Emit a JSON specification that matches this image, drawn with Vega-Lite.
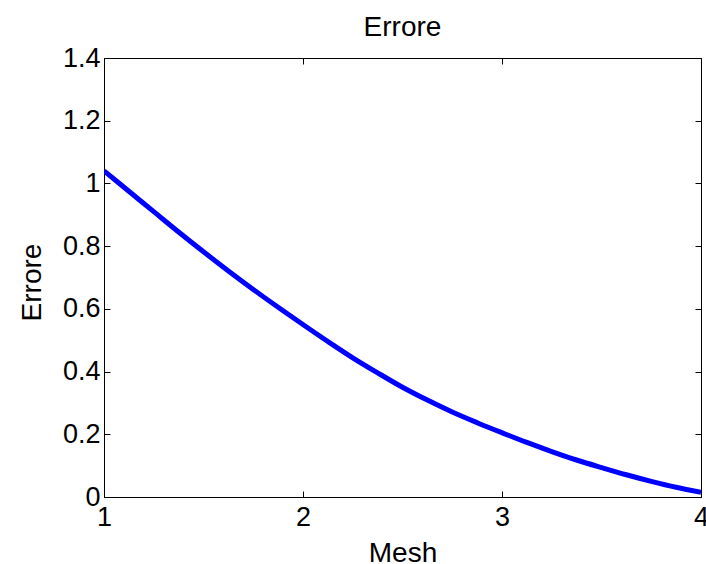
{
  "$schema": "https://vega.github.io/schema/vega-lite/v6.json",
  "width": 597,
  "height": 439,
  "autosize": {"type": "none"},
  "padding": {"left": 104, "top": 58, "right": 5, "bottom": 67},
  "background": "white",
  "title": {
    "text": "Errore",
    "font": "Liberation Sans",
    "fontSize": 28,
    "fontWeight": "normal",
    "color": "black",
    "baseline": "alphabetic",
    "offset": -20
  },
  "data": {
    "values": [
      {"mesh": 1.0, "errore": 1.04},
      {"mesh": 1.125, "errore": 0.975},
      {"mesh": 1.25, "errore": 0.91},
      {"mesh": 1.375, "errore": 0.845},
      {"mesh": 1.5, "errore": 0.782},
      {"mesh": 1.625, "errore": 0.721},
      {"mesh": 1.75, "errore": 0.662},
      {"mesh": 1.875, "errore": 0.605},
      {"mesh": 2.0, "errore": 0.55},
      {"mesh": 2.125, "errore": 0.496},
      {"mesh": 2.25, "errore": 0.444},
      {"mesh": 2.375, "errore": 0.396},
      {"mesh": 2.5, "errore": 0.35},
      {"mesh": 2.625, "errore": 0.309},
      {"mesh": 2.75, "errore": 0.271},
      {"mesh": 2.875, "errore": 0.237},
      {"mesh": 3.0, "errore": 0.205},
      {"mesh": 3.125, "errore": 0.174},
      {"mesh": 3.25, "errore": 0.145},
      {"mesh": 3.375, "errore": 0.118},
      {"mesh": 3.5, "errore": 0.094},
      {"mesh": 3.625, "errore": 0.071},
      {"mesh": 3.75, "errore": 0.05},
      {"mesh": 3.875, "errore": 0.031},
      {"mesh": 4.0, "errore": 0.015}
    ]
  },
  "config": {
    "view": {"stroke": "black", "strokeWidth": 1},
    "axis": {
      "grid": false,
      "domainColor": "black",
      "domainWidth": 1,
      "tickColor": "black",
      "tickWidth": 1,
      "tickSize": -6,
      "labelFont": "Liberation Sans",
      "labelFontSize": 27,
      "labelColor": "black",
      "titleFont": "Liberation Sans",
      "titleFontSize": 28,
      "titleFontWeight": "normal",
      "titleColor": "black"
    }
  },
  "layer": [
    {
      "mark": {"type": "line", "color": "#0000FF", "strokeWidth": 5, "interpolate": "monotone", "clip": true},
      "encoding": {
        "x": {
          "field": "mesh",
          "type": "quantitative",
          "scale": {"domain": [1, 4], "nice": false, "zero": false},
          "axis": {
            "orient": "bottom",
            "title": "Mesh",
            "values": [1, 2, 3, 4],
            "format": "d",
            "labelPadding": 13,
            "labelFlush": false,
            "labelOverlap": false,
            "titleBaseline": "alphabetic",
            "titleY": 64
          }
        },
        "y": {
          "field": "errore",
          "type": "quantitative",
          "scale": {"domain": [0, 1.4], "nice": false, "zero": false},
          "axis": {
            "orient": "left",
            "title": "Errore",
            "values": [0, 0.2, 0.4, 0.6, 0.8, 1, 1.2, 1.4],
            "labelExpr": "'' + datum.value",
            "labelPadding": 10,
            "labelFlush": false,
            "labelOverlap": false,
            "titleAngle": -90,
            "titleAlign": "center",
            "titleBaseline": "alphabetic",
            "titleX": -64,
            "titleY": 224
          }
        }
      }
    },
    {
      "mark": {"type": "line", "strokeOpacity": 0},
      "encoding": {
        "x": {
          "field": "mesh",
          "type": "quantitative",
          "axis": {"orient": "top", "title": null, "labels": false, "values": [1, 2, 3, 4]}
        },
        "y": {
          "field": "errore",
          "type": "quantitative",
          "axis": {"orient": "right", "title": null, "labels": false, "values": [0, 0.2, 0.4, 0.6, 0.8, 1, 1.2, 1.4]}
        }
      }
    }
  ],
  "resolve": {"axis": {"x": "independent", "y": "independent"}}
}
